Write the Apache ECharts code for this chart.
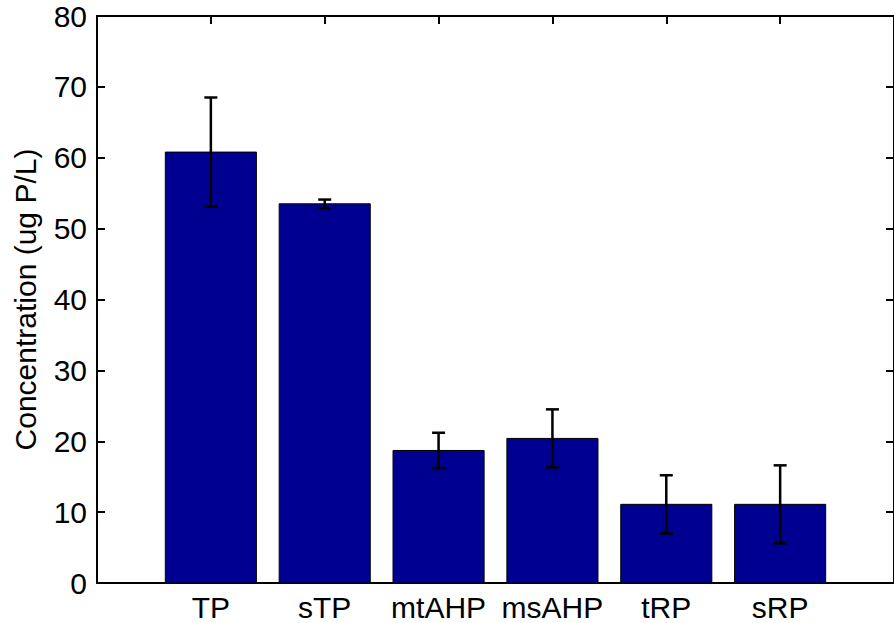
<!DOCTYPE html>
<html>
<head>
<meta charset="utf-8">
<style>
  html, body { margin: 0; padding: 0; background: #fff; }
  #chart { width: 894px; height: 623px; }
</style>
<script src="https://cdn.jsdelivr.net/npm/echarts@6/dist/echarts.min.js"></script>
</head>
<body>
<div id="chart"></div>
<script>
var categories = ['TP', 'sTP', 'mtAHP', 'msAHP', 'tRP', 'sRP'];
var means = [60.8, 53.5, 18.7, 20.4, 11.1, 11.1];
var errors = [7.7, 0.6, 2.5, 4.1, 4.1, 5.5];
var yTicks = [0, 10, 20, 30, 40, 50, 60, 70, 80];

(function() {
  var font = 'Liberation Sans, Arial, Helvetica, sans-serif';
  var chart = echarts.init(document.getElementById('chart'), null, { renderer: 'svg' });

  var barData = categories.map(function(c, i) { return [i + 1, means[i]]; });
  var errData = categories.map(function(c, i) {
    return [i + 1, means[i] - errors[i], means[i] + errors[i]];
  });

  function axisLine() { return { show: true, onZero: false, lineStyle: { color: '#000', width: 2 } }; }
  function axisTick() { return { show: true, inside: true, length: 8, lineStyle: { color: '#000', width: 2 } }; }

  chart.setOption({
    animation: false,
    backgroundColor: '#fff',
    grid: { left: 97, top: 16, width: 803, height: 567 },
    xAxis: [{
      type: 'value', min: 0, max: 7, interval: 1, position: 'bottom',
      axisLine: axisLine(), axisTick: axisTick(), splitLine: { show: false },
      axisLabel: {
        color: '#000', fontFamily: font, fontSize: 30, margin: 9,
        showMinLabel: false, showMaxLabel: false,
        formatter: function(v) { return categories[v - 1] || ''; }
      }
    }, {
      type: 'value', min: 0, max: 7, interval: 1, position: 'top',
      axisLine: axisLine(), axisTick: axisTick(), splitLine: { show: false },
      axisLabel: { show: false }
    }],
    yAxis: [{
      type: 'value', min: yTicks[0], max: yTicks[yTicks.length - 1], interval: 10,
      position: 'left',
      name: 'Concentration (ug P/L)', nameLocation: 'middle', nameGap: 57,
      nameTextStyle: { color: '#000', fontFamily: font, fontSize: 30 },
      axisLine: axisLine(), axisTick: axisTick(), splitLine: { show: false },
      axisLabel: { color: '#000', fontFamily: font, fontSize: 30, margin: 10 }
    }, {
      type: 'value', min: yTicks[0], max: yTicks[yTicks.length - 1], interval: 10,
      position: 'right',
      axisLine: axisLine(), axisTick: axisTick(), splitLine: { show: false },
      axisLabel: { show: false }
    }],
    series: [{
      type: 'custom',
      data: barData,
      encode: { x: 0, y: 1 },
      renderItem: function(params, api) {
        var x = api.value(0), y = api.value(1);
        var p0 = api.coord([x - 0.4, 0]);
        var p1 = api.coord([x + 0.4, y]);
        return {
          type: 'rect',
          shape: { x: p0[0], y: p1[1], width: p1[0] - p0[0], height: p0[1] - p1[1] },
          style: { fill: '#000090', stroke: '#000', lineWidth: 1 }
        };
      },
      z: 2
    }, {
      type: 'custom',
      data: errData,
      encode: { x: 0, y: [1, 2] },
      renderItem: function(params, api) {
        var x = api.value(0);
        var lo = api.coord([x, api.value(1)]);
        var hi = api.coord([x, api.value(2)]);
        var cap = 6.5;
        var st = { stroke: '#000', lineWidth: 2.5 };
        return {
          type: 'group',
          children: [
            { type: 'line', shape: { x1: lo[0], y1: lo[1], x2: hi[0], y2: hi[1] }, style: st },
            { type: 'line', shape: { x1: hi[0] - cap, y1: hi[1], x2: hi[0] + cap, y2: hi[1] }, style: st },
            { type: 'line', shape: { x1: lo[0] - cap, y1: lo[1], x2: lo[0] + cap, y2: lo[1] }, style: st }
          ]
        };
      },
      z: 3
    }]
  });
  window.addEventListener('resize', function() { chart.resize(); });
})();
</script>
</body>
</html>
